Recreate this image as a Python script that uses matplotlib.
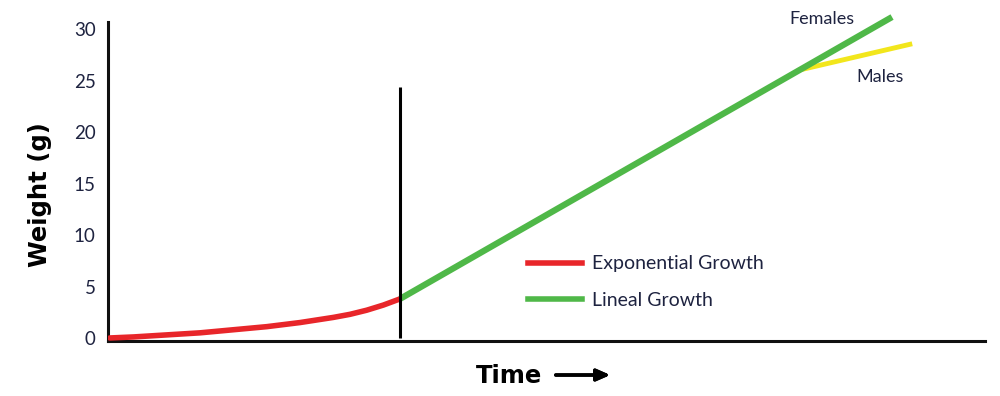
import matplotlib.pyplot as plt
from matplotlib.lines import Line2D

# values (time in arbitrary units 0-100, weight in g)
exp_time = [0.2, 2.9, 6.7, 10.5, 14.3, 18.1, 21.9, 25.7, 27.6, 29.5, 31.4, 33.3]
exp_weight = [0.0, 0.1, 0.3, 0.5, 0.8, 1.1, 1.5, 2.0, 2.3, 2.7, 3.2, 3.8]

lin_time = [33.3, 89.4]
lin_weight = [3.8, 31.2]

male_time = [78.6, 91.7]
male_weight = [26.0, 28.6]

split_time = 33.3
split_top = 24.4

yticks = [0, 5, 10, 15, 20, 25, 30]

red = "#e8262a"
green = "#4fb848"
yellow = "#f2e61c"
navy = "#1e2340"

fig = plt.figure(figsize=(10, 3.96), dpi=100)
ax = fig.add_axes([0.108, 0.139, 0.877, 0.805])

ax.plot(exp_time, exp_weight, color=red, lw=4, solid_capstyle="round",
        solid_joinstyle="round", zorder=3)
ax.plot(male_time, male_weight, color=yellow, lw=3.5, solid_capstyle="butt",
        zorder=2, clip_on=False)
ax.plot(lin_time, lin_weight, color=green, lw=4.5, solid_capstyle="butt",
        zorder=3, clip_on=False)
ax.vlines(split_time, 0, split_top, color="black", lw=2.2, zorder=4)

ax.set_xlim(0, 100)
ax.set_ylim(-0.29, 30.7)
ax.set_yticks(yticks)
ax.set_yticklabels([str(t) for t in yticks], fontsize=13.5, color=navy, family="Lato")
ax.tick_params(axis="y", length=0, pad=9)
ax.set_xticks([])
for s in ["top", "right"]:
    ax.spines[s].set_visible(False)
for s in ["left", "bottom"]:
    ax.spines[s].set_linewidth(2.2)
    ax.spines[s].set_color("#111111")

ax.text(81.4, 31.0, "Females", fontsize=13, color=navy, family="Lato",
        ha="center", va="center")
ax.text(88.0, 25.4, "Males", fontsize=13, color=navy, family="Lato",
        ha="center", va="center")

fig.text(0.040, 0.508, "Weight (g)", rotation=90, fontsize=17.5, fontweight="bold",
         ha="center", va="center")
fig.text(0.509, 0.051, "Time", fontsize=17.5, fontweight="bold", ha="center", va="center")
fig.add_artist(plt.annotate("", xy=(0.613, 0.053), xytext=(0.553, 0.053),
                            xycoords="figure fraction",
                            arrowprops=dict(arrowstyle="-|>,head_length=0.8,head_width=0.35",
                                            color="black", lw=2.5)))

handles = [Line2D([], [], color=red, lw=4), Line2D([], [], color=green, lw=4)]
ax.legend(handles, ["Exponential Growth", "Lineal Growth"], loc="upper left",
          bbox_to_anchor=(0.528, 0.355), bbox_transform=fig.transFigure,
          frameon=False, borderpad=0, borderaxespad=0, handlelength=2.8,
          handletextpad=0.5, labelspacing=1.0,
          prop={"family": "Lato", "size": 14}, labelcolor=navy)

fig.savefig("out.png", dpi=100)
